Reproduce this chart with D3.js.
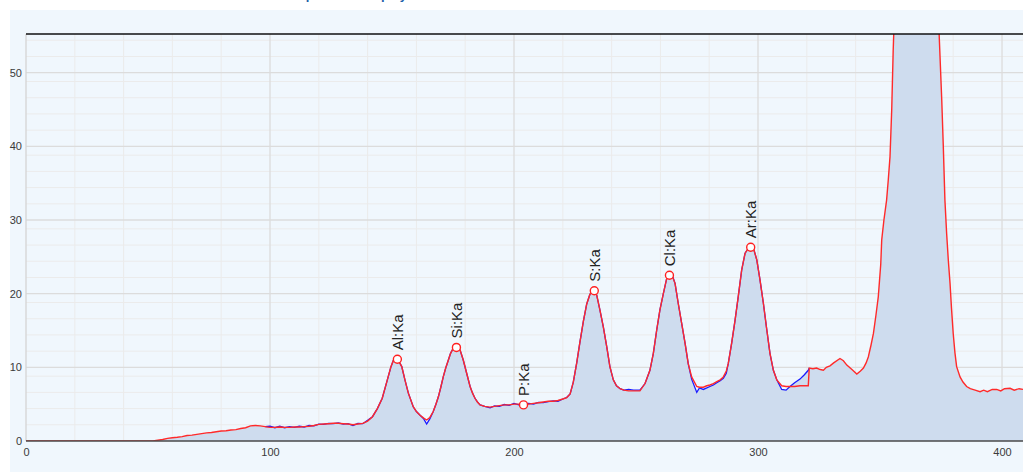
<!DOCTYPE html>
<html>
<head>
<meta charset="utf-8">
<script src="https://cdn.jsdelivr.net/npm/d3@7"></script>
<style>
  body { margin: 0; background: #fff; }
  svg { display: block; font-family: "Liberation Sans", Arial, sans-serif; }
</style>
</head>
<body>
<div id="content"></div>
<script>
// Channel (x) positions of the spectrum samples.
var energy = [0, 20, 40, 50, 52, 54, 56, 58, 60, 62, 64, 66, 68, 70, 72, 74, 76, 78, 80, 82, 84, 86, 88, 90,
  92, 94, 96, 98, 100, 102, 104, 106, 108, 110, 112, 114, 116, 118, 120, 122, 124, 126, 128, 130, 132, 134,
  136, 138, 140, 142, 144, 146, 148, 149.5, 150.5, 151.5, 152.5, 154, 155.3, 156.7, 158.7, 160, 161.5, 163,
  164.2, 165.5, 166.9, 168, 169, 170, 171, 172, 173.1, 174, 175.1, 176.2, 177.9, 179.2, 180.6, 182, 183, 184,
  185, 186.1, 188, 190.2, 192, 194, 196, 198, 200, 202, 204, 206, 208, 210, 212, 214, 216, 218, 220, 221.6,
  223, 224.3, 225.7, 227, 228.4, 229.8, 231.1, 232.5, 233.9, 235.2, 236.6, 238, 239.3, 240.7, 242, 243.5,
  245, 247, 249, 251.6, 253.7, 255.7, 257.1, 258.5, 259.8, 261.2, 262.6, 263.6, 264.6, 266, 267.3, 268.7,
  270.1, 271.4, 272.8, 274.9, 276, 277.6, 279, 280.3, 281.7, 283.1, 284.5, 285.8, 287, 287.8, 289.2, 290.6,
  291.9, 293.3, 294.7, 296.7, 298.1, 299.5, 300.8, 302.2, 303.6, 304.9, 306.3, 307.7, 309.7, 311.5, 313.1,
  315, 317.2, 319, 320.6, 321, 322.5, 324, 325.5, 326.8, 328, 329.5, 331, 333.6, 335, 336.4, 338.5, 340.5,
  342, 343.2, 344.3, 345.2, 346.3, 347.3, 348.3, 349.3, 350.3, 350.7, 351.6, 352.7, 353.4, 354.1, 354.8,
  355.4, 356.1, 358, 361, 364.5, 368, 371, 373.9, 375.3, 375.9, 376.6, 377.3, 378, 378.7, 379.3, 380, 380.7,
  381.4, 382.8, 384, 385.5, 387, 389, 391, 392.5, 394, 396, 397.8, 399.5, 401, 403.3, 405, 407, 408.6];

// Fitted spectrum (red).
var fitCounts = [0, 0, 0, 0, 0, 0.1, 0.2, 0.35, 0.45, 0.5, 0.6, 0.75, 0.8, 0.9, 1.0, 1.1, 1.15, 1.25, 1.35, 1.4, 1.5, 1.55, 1.7, 1.8,
  2.05, 2.1, 2.05, 1.95, 1.85, 1.85, 1.9, 1.85, 1.85, 1.9, 1.9, 1.95, 2.0, 2.1, 2.25, 2.3, 2.35, 2.4, 2.4, 2.35, 2.3, 2.2,
  2.3, 2.4, 2.7, 3.3, 4.4, 5.8, 8.2, 10.0, 10.9, 11.2, 11.0, 10.1, 8.3, 6.5, 4.65, 4.0, 3.5, 3.1,
  2.85, 3.2, 4.0, 5.0, 6.0, 7.3, 8.7, 9.9, 11.0, 11.9, 12.6, 12.8, 12.35, 11.0, 9.2, 7.4, 6.5, 5.8,
  5.3, 4.9, 4.7, 4.6, 4.7, 4.8, 4.9, 4.9, 5.0, 5.0, 4.9, 5.0, 5.1, 5.2, 5.3, 5.4, 5.4, 5.5, 5.7, 5.9,
  6.4, 8.0, 10.6, 13.4, 16.2, 18.6, 19.9, 20.5, 19.8, 17.8, 15.5, 12.8, 10.1, 8.3, 7.5, 7.1,
  6.9, 6.8, 6.8, 6.8, 7.8, 9.6, 11.9, 15.1, 17.8, 20.0, 22.1, 22.5, 22.6, 21.4, 18.7, 16.0,
  13.3, 10.5, 8.7, 7.4, 7.3, 7.3, 7.5, 7.6, 7.8, 8.05, 8.3, 8.7, 9.5, 10.5, 13.3, 16.4,
  19.6, 23.2, 25.5, 26.5, 26.2, 24.6, 21.9, 18.7, 15.1, 11.9, 9.6, 8.3, 7.5, 7.4, 7.4,
  7.4, 7.5, 7.5, 7.5, 9.9, 9.8, 9.9, 9.7, 9.6, 10.0, 10.2, 10.6, 11.2, 10.9, 10.3, 9.7, 9.1,
  9.5, 9.9, 10.6, 11.4, 13.0, 14.6, 17.0, 19.6, 24.0, 27.3, 30.0, 32.7, 35.5, 38.6, 45.0,
  53.0, 60.0, 85, 115, 125, 115, 90, 58, 46.3, 40.4, 32.7, 28.2, 24.5, 21.4, 18.0, 14.6, 12.0,
  10.1, 8.7, 8.0, 7.4, 7.1, 6.9, 6.7, 6.9, 6.7, 7.0, 7.0, 6.8, 7.1, 7.15, 6.9, 7.1, 7.0];

// Measured spectrum (blue line, filled area).
var measCounts = [0, 0, 0, 0, 0, 0.1, 0.2, 0.35, 0.45, 0.5, 0.6, 0.75, 0.8, 0.9, 1.0, 1.1, 1.15, 1.25, 1.35, 1.4, 1.5, 1.55, 1.7, 1.8,
  2.05, 2.1, 2.05, 1.95, 2.0, 1.8, 2.0, 1.8, 1.95, 1.85, 2.0, 1.9, 2.1, 2.05, 2.3, 2.25, 2.4, 2.35, 2.45, 2.3, 2.35, 2.1,
  2.4, 2.35, 2.8, 3.3, 4.4, 5.8, 8.2, 10.0, 10.9, 11.2, 11.0, 10.1, 8.3, 6.5, 4.65, 4.0, 3.5, 3.0,
  2.3, 3.0, 4.0, 5.0, 6.0, 7.3, 8.7, 9.9, 11.0, 11.9, 12.6, 12.8, 12.35, 11.0, 9.2, 7.4, 6.5, 5.8,
  5.3, 4.9, 4.7, 4.5, 4.75, 4.7, 4.95, 4.85, 5.1, 4.9, 5.0, 5.1, 5.0, 5.25, 5.2, 5.35, 5.45, 5.4, 5.7, 5.9,
  6.4, 8.0, 10.6, 13.4, 16.2, 18.6, 19.9, 20.5, 19.8, 17.8, 15.5, 12.8, 10.1, 8.3, 7.5, 7.1,
  6.9, 7.0, 6.9, 6.9, 7.8, 9.6, 11.9, 15.1, 17.8, 20.0, 22.1, 22.5, 22.8, 21.4, 18.7, 16.0,
  13.3, 10.5, 8.4, 6.6, 7.2, 7.0, 7.2, 7.4, 7.6, 7.9, 8.2, 8.5, 9.2, 10.5, 13.3, 16.4,
  19.6, 23.2, 25.5, 26.5, 26.2, 24.6, 21.9, 18.7, 15.1, 11.9, 9.6, 8.3, 7.0, 6.9, 7.4,
  7.9, 8.4, 9.0, 9.6, 9.9, 9.8, 9.9, 9.7, 9.6, 10.0, 10.2, 10.6, 11.2, 10.9, 10.3, 9.7, 9.1,
  9.5, 9.9, 10.6, 11.4, 13.0, 14.6, 17.0, 19.6, 24.0, 27.3, 30.0, 32.7, 35.5, 38.6, 45.0,
  53.0, 60.0, 85, 115, 125, 115, 90, 58, 46.3, 40.4, 32.7, 28.2, 24.5, 21.4, 18.0, 14.6, 12.0,
  10.1, 8.7, 8.0, 7.4, 7.1, 6.9, 6.7, 6.9, 6.7, 7.0, 7.0, 6.8, 7.1, 7.15, 6.9, 7.1, 7.0];

// Identified peaks.
var peakLabels = ["Al:Ka", "Si:Ka", "P:Ka", "S:Ka", "Cl:Ka", "Ar:Ka"];
var peakEnergy = [152.2, 176.4, 203.9, 232.9, 263.7, 297.0];
var peakCounts = [11.1, 12.7, 4.9, 20.4, 22.5, 26.3];

var xTicks = [0, 100, 200, 300, 400];
var yTicks = [0, 10, 20, 30, 40, 50];

// SVG dimensions.
var width = 1023, height = 472;
var plot = {left : 26, right : 1023, top : 34, bottom : 441};

var svg = d3.select('#content')
              .append('svg')
              .attr('width', width)
              .attr('height', height);

// Panel background.
svg.append('rect')
    .attr('x', 10).attr('y', 10)
    .attr('width', width - 10).attr('height', height - 10)
    .attr('fill', '#f0f7fd');

// Title (cut off by the top of the window).
svg.append('text')
    .attr('x', 352).attr('y', -1)
    .attr('text-anchor', 'middle')
    .attr('font-size', 13).attr('font-weight', 'bold')
    .attr('fill', '#1f5fa8')
    .text('Spectrum Display');

var x = d3.scaleLinear().domain([0, 408.6]).range([plot.left, plot.right]);
var y = d3.scaleLinear().domain([0, 55.25]).range([plot.bottom, plot.top]);

var data = energy.map(function(e, i) {
  return {e : e, fit : fitCounts[i], meas : measCounts[i]};
});

// Grid lines.
var grid = svg.append('g');
var xMinor = d3.range(20, 409, 20).filter(function(v) { return v % 100 !== 0; });
var yMinor = [];
yTicks.forEach(function(m) {
  [1, 2, 3, 4].forEach(function(k) {
    var v = m + 2.2 * k;
    if (v < 55.25) yMinor.push(v);
  });
});

grid.selectAll('.xminor').data(xMinor).enter().append('line')
    .attr('x1', function(d) { return x(d); }).attr('x2', function(d) { return x(d); })
    .attr('y1', plot.top).attr('y2', plot.bottom)
    .attr('stroke', '#ebebeb').attr('stroke-width', 1);
grid.selectAll('.yminor').data(yMinor).enter().append('line')
    .attr('x1', plot.left).attr('x2', plot.right)
    .attr('y1', function(d) { return y(d); }).attr('y2', function(d) { return y(d); })
    .attr('stroke', '#ebebeb').attr('stroke-width', 1);
grid.selectAll('.xmajor').data(xTicks.slice(1)).enter().append('line')
    .attr('x1', function(d) { return x(d); }).attr('x2', function(d) { return x(d); })
    .attr('y1', plot.top).attr('y2', plot.bottom)
    .attr('stroke', '#dcdcdc').attr('stroke-width', 1.3);
grid.selectAll('.ymajor').data(yTicks.slice(1)).enter().append('line')
    .attr('x1', plot.left).attr('x2', plot.right)
    .attr('y1', function(d) { return y(d); }).attr('y2', function(d) { return y(d); })
    .attr('stroke', '#dcdcdc').attr('stroke-width', 1.3);

// Y axis line.
svg.append('line')
    .attr('x1', plot.left).attr('x2', plot.left)
    .attr('y1', plot.top).attr('y2', plot.bottom)
    .attr('stroke', '#d4d4d4').attr('stroke-width', 1.3);

// Clip for the spectrum.
svg.append('clipPath').attr('id', 'clip')
    .append('rect')
    .attr('x', plot.left).attr('y', plot.top)
    .attr('width', plot.right - plot.left).attr('height', plot.bottom - plot.top);

var g = svg.append('g').attr('clip-path', 'url(#clip)');

// X axis baseline (under the lines).
svg.append('line')
    .attr('x1', plot.left).attr('x2', plot.right)
    .attr('y1', plot.bottom).attr('y2', plot.bottom)
    .attr('stroke', '#4a4a4a').attr('stroke-width', 1.5);

// Filled measured spectrum.
g.append('path')
    .datum(data)
    .attr('fill', '#cedcee')
    .attr('d', d3.area()
                   .x(function(d) { return x(d.e); })
                   .y0(y(0))
                   .y1(function(d) { return y(d.meas); }));

// Measured line (blue).
g.append('path')
    .datum(data.filter(function(d) { return d.e >= 98 && d.e <= 322; }))
    .attr('fill', 'none')
    .attr('stroke', '#1a1aff')
    .attr('stroke-width', 1.3)
    .attr('d', d3.line()
                   .x(function(d) { return x(d.e); })
                   .y(function(d) { return y(d.meas); }));

// Fit line (red).
g.append('path')
    .datum(data)
    .attr('fill', 'none')
    .attr('stroke', '#ff2a2a')
    .attr('stroke-width', 1.4)
    .attr('d', d3.line()
                   .x(function(d) { return x(d.e); })
                   .y(function(d) { return y(d.fit); }));

// Top border.
svg.append('line')
    .attr('x1', plot.left).attr('x2', plot.right)
    .attr('y1', plot.top).attr('y2', plot.top)
    .attr('stroke', '#111').attr('stroke-width', 1.5);

// Peak markers and labels.
var peaks = peakLabels.map(function(l, i) {
  return {label : l, e : peakEnergy[i], c : peakCounts[i]};
});

svg.selectAll('.marker').data(peaks).enter().append('circle')
    .attr('cx', function(d) { return x(d.e); })
    .attr('cy', function(d) { return y(d.c); })
    .attr('r', 4)
    .attr('fill', '#fff')
    .attr('stroke', '#ff2020')
    .attr('stroke-width', 1.4);

svg.selectAll('.plabel').data(peaks).enter().append('text')
    .attr('transform', function(d) {
      return 'translate(' + x(d.e) + ',' + (y(d.c) - 9) + ') rotate(-90)';
    })
    .attr('dy', '0.36em')
    .attr('font-size', 15)
    .attr('fill', '#222')
    .text(function(d) { return d.label; });

// Axes labels.
var yAxis = svg.append('g')
    .attr('transform', 'translate(' + plot.left + ',0)')
    .call(d3.axisLeft(y).tickValues(yTicks).tickSize(0).tickPadding(4));
var xAxis = svg.append('g')
    .attr('transform', 'translate(0,' + plot.bottom + ')')
    .call(d3.axisBottom(x).tickValues(xTicks).tickSize(0).tickPadding(7));

[yAxis, xAxis].forEach(function(a) {
  a.select('.domain').remove();
  a.selectAll('text')
      .attr('font-size', 11)
      .attr('font-family', '"Liberation Sans", Arial, sans-serif')
      .attr('fill', '#3a3a3a');
});
</script>
</body>
</html>
